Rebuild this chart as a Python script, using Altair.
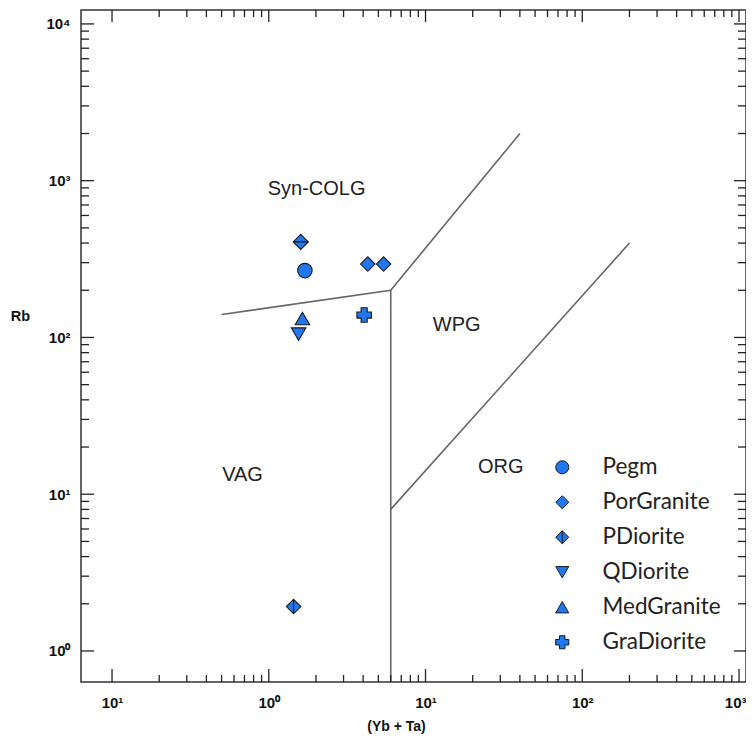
import altair as alt
import pandas as pd

# ---- data ----
types = ["Pegm", "PorGranite", "PorGranite", "PDiorite", "QDiorite", "MedGranite", "GraDiorite"]
xs = [1.70, 4.28, 5.40, 1.44, 1.55, 1.64, 4.06]
ys = [267, 294, 294, 1.92, 105, 132, 139]
# second PDiorite point (drawn with a horizontal bar)
pd_top_x = [1.60]
pd_top_y = [407]

legend_order = ["Pegm", "PorGranite", "PDiorite", "QDiorite", "MedGranite", "GraDiorite"]

seg_id = [0, 0, 0, 0, 1, 1, 2, 2]
seg_x = [0.5, 6, 6, 40, 6, 200, 6, 6]
seg_y = [140, 200, 200, 2000, 8, 400, 200, 0.634]
seg_ord = [0, 1, 2, 3, 0, 1, 0, 1]

region_names = ["Syn-COLG", "WPG", "VAG", "ORG"]
region_x = [2.02, 15.8, 0.68, 30.2]
region_y = [886, 120, 13.3, 14.9]

x_major = [0.1, 1, 10, 100, 1000]
x_labels = ["10¹", "10⁰", "10¹", "10²", "10³"]
y_major = [1, 10, 100, 1000, 10000]
y_labels = ["10⁰", "10¹", "10²", "10³", "10⁴"]
x_minor = [k * 10.0 ** e for e in range(-1, 3) for k in range(2, 10)]
y_minor = [k * 10.0 ** e for e in range(0, 4) for k in range(2, 10)]

W, H = 665, 672
FILL = "#1F78F0"
STROKE = "#1a1a1a"

xscale = alt.Scale(type="log", domain=[0.0634, 1108], nice=False)
yscale = alt.Scale(type="log", domain=[0.634, 12270], nice=False)

diamond_v = "M0,-1L1,0L0,1L-1,0Z M0,-1L0,1"
diamond_h = "M0,-1L1,0L0,1L-1,0Z M-1,0L1,0"
plus = "M-0.42,-1H0.42V-0.42H1V0.42H0.42V1H-0.42V0.42H-1V-0.42H-0.42Z"
shape_range = ["circle", "diamond", diamond_v, "triangle-down", "triangle-up", plus]

pts = pd.DataFrame({"Type": types, "x": xs, "y": ys})
top = pd.DataFrame({"x": pd_top_x, "y": pd_top_y})
segs = pd.DataFrame({"seg": seg_id, "x": seg_x, "y": seg_y, "o": seg_ord})
regions = pd.DataFrame({"name": region_names, "x": region_x, "y": region_y})

xl_expr = "[" + ",".join("'%s'" % s for s in x_labels) + "][round(log(datum.value)/LN10)+1]"
yl_expr = "[" + ",".join("'%s'" % s for s in y_labels) + "][round(log(datum.value)/LN10)]"

x_axis = alt.Axis(values=x_major, labelExpr=xl_expr, ticks=False, domain=False, grid=False,
                  labelFont="Liberation Sans", labelFontWeight="bold", labelFontSize=15,
                  labelColor="#111", labelPadding=13, labelBaseline="top",
                  labelAlign={"condition": {"test": "datum.value >= 999", "value": "right"},
                              "value": "center"},
                  labelOffset={"condition": {"test": "datum.value >= 999", "value": 7},
                               "value": 0},
                  labelBound=False,
                  title="(Yb + Ta)",
                  titleFont="Liberation Sans", titleFontWeight="bold", titleFontSize=14,
                  titleColor="#111", titleX=315, titleY=44, titleAlign="center",
                  titleBaseline="middle", titleAnchor="start")
y_axis = alt.Axis(values=y_major, labelExpr=yl_expr, ticks=False, domain=False, grid=False,
                  labelFont="Liberation Sans", labelFontWeight="bold", labelFontSize=15,
                  labelColor="#111", labelPadding=11, title="Rb", titleAngle=0,
                  titleFont="Liberation Sans", titleFontWeight="bold", titleFontSize=14.5,
                  titleColor="#111", titleX=-61, titleY=306, titleAlign="center",
                  titleBaseline="middle", titleAnchor="start")

X = alt.X("x:Q", scale=xscale, axis=x_axis)
Y = alt.Y("y:Q", scale=yscale, axis=y_axis)

lines = alt.Chart(segs).mark_line(color="#666666", strokeWidth=1.6, clip=True).encode(
    x=X, y=Y, detail="seg:N", order="o:Q",
)

def ticks_x(vals, y0, y1):
    d = pd.DataFrame({"x": vals})
    return alt.Chart(d).mark_rule(color="#222", strokeWidth=1.3).encode(
        x=X, y=alt.value(y0), y2=alt.value(y1))

def ticks_y(vals, x0, x1):
    d = pd.DataFrame({"y": vals})
    return alt.Chart(d).mark_rule(color="#222", strokeWidth=1.3).encode(
        y=Y, x=alt.value(x0), x2=alt.value(x1))

tick_layers = [
    ticks_x(x_major, H, H - 13), ticks_x(x_minor, H, H - 7),
    ticks_x(x_major, 0, 12), ticks_x(x_minor, 0, 7),
    ticks_y(y_major, 0, 13), ticks_y(y_minor, 0, 8),
    ticks_y(y_major, W, W - 12), ticks_y(y_minor, W, W - 8),
]

texts = alt.Chart(regions).mark_text(font="Liberation Sans", fontSize=20, color="#222").encode(
    x=X, y=Y, text="name:N",
)

points = alt.Chart(pts).mark_point(filled=True, opacity=1, size=210, strokeWidth=1.1).encode(
    x=X, y=Y,
    fill=alt.Fill("Type:N", scale=alt.Scale(domain=legend_order, range=[FILL] * 6), legend=None),
    stroke=alt.Stroke("Type:N", scale=alt.Scale(domain=legend_order, range=[STROKE] * 6),
                      legend=None),
    shape=alt.Shape("Type:N", scale=alt.Scale(domain=legend_order, range=shape_range),
                    legend=alt.Legend(title=None, orient="none", legendX=470, legendY=446,
                                      labelFont="Lato", labelFontSize=22.5,
                                      labelColor="#222", labelOffset=29, rowPadding=12,
                                      symbolSize=170, padding=0,
                                      symbolFillColor="#4A80E6", symbolStrokeColor="#333",
                                      symbolStrokeWidth=1, symbolOpacity=1)),
)

top_pt = alt.Chart(top).mark_point(filled=True, fill=FILL, stroke=STROKE, strokeWidth=1.1,
                                   opacity=1, size=230, shape=diamond_h).encode(x=X, y=Y)

chart = alt.layer(lines, *tick_layers, texts, points, top_pt).properties(
    width=W, height=H,
    autosize=alt.AutoSizeParams(type="none"),
    padding={"left": 73, "top": 2, "right": 0, "bottom": 53},
).configure_view(stroke="#333", strokeWidth=1.5)

chart.save("out.html", embed_options={"renderer": "svg", "actions": False})
